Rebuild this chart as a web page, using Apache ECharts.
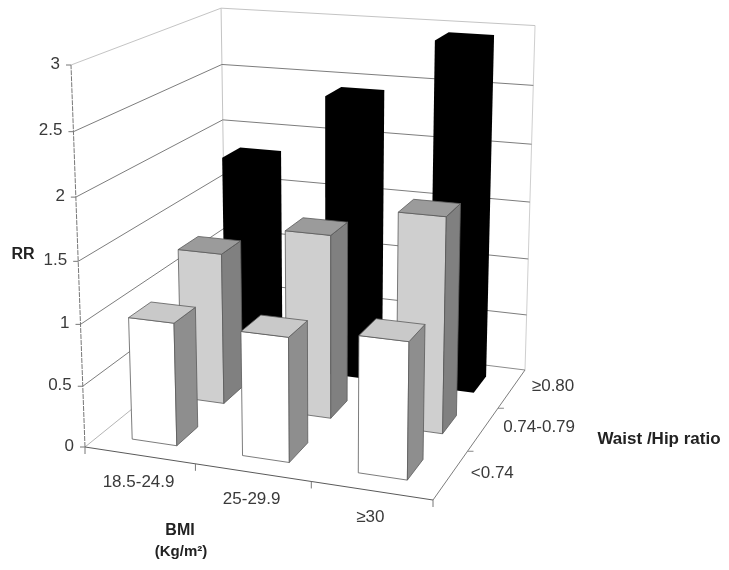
<!DOCTYPE html>
<html>
<head>
    <meta charset="UTF-8">
    <title>RR by BMI and waist/hip ratio</title>
    <script src="https://cdn.jsdelivr.net/npm/echarts@6/dist/echarts.min.js"></script>
    <style>
        html, body { margin: 0; background: #fff; }
        #chart { width: 729px; height: 570px; }
    </style>
</head>
<body>
    <div id="chart"></div>
    <script>
        var bmiLabels = ['18.5-24.9', '25-29.9', '≥30'];
        var waistHipLabels = ['<0.74', '0.74-0.79', '≥0.80'];
        var rrTicks = [0, 0.5, 1, 1.5, 2, 2.5, 3];
        var rrLow = [1.0, 1.0, 1.08];
        var rrMid = [1.28, 1.53, 1.77];
        var rrHigh = [1.83, 2.43, 2.95];

        // screen corners of the box: floor, then two top corners
        var A = [85, 447], C = [433, 500], D = [525, 370], B = [226, 333];
        var topA = [71, 65], topD = [535, 27];

        // hidden grid, its pixels are the front plane that gets projected
        var PLANE = 300;
        var BAR_W = 0.41, BAR_D = 0.43;
        var FONT_FAMILY = '"Liberation Sans", Arial, sans-serif';

        // unit square -> floor quad
        var dx1 = C[0] - D[0], dx2 = B[0] - D[0], sx = A[0] - C[0] + D[0] - B[0];
        var dy1 = C[1] - D[1], dy2 = B[1] - D[1], sy = A[1] - C[1] + D[1] - B[1];
        var det = dx1 * dy2 - dx2 * dy1;
        var g = (sx * dy2 - dx2 * sy) / det;
        var h = (dx1 * sy - sx * dy1) / det;
        var m = [
            C[0] - A[0] + g * C[0], B[0] - A[0] + h * B[0], A[0],
            C[1] - A[1] + g * C[1], B[1] - A[1] + h * B[1], A[1]
        ];

        // verticals meet in one vanishing point
        var slopeA = (topA[0] - A[0]) / (topA[1] - A[1]);
        var slopeD = (topD[0] - D[0]) / (topD[1] - D[1]);
        var vy = (D[0] - A[0] + slopeA * A[1] - slopeD * D[1]) / (slopeA - slopeD);
        var vx = A[0] + slopeA * (vy - A[1]);
        var k = (topA[1] - A[1]) / (vy - topA[1]);

        function project(s, t, z) {
            var w = g * s + h * t + 1 + z * k;
            return [
                (m[0] * s + m[1] * t + m[2] + z * k * vx) / w,
                (m[3] * s + m[4] * t + m[5] + z * k * vy) / w
            ];
        }

        function line(p, q, color, width, dash) {
            return {
                type: 'line',
                shape: { x1: p[0], y1: p[1], x2: q[0], y2: q[1] },
                style: { stroke: color, lineWidth: width || 1, lineDash: dash }
            };
        }

        function label(text, x, y, align) {
            return {
                type: 'text',
                style: {
                    text: text, x: x, y: y, align: align, verticalAlign: 'middle',
                    fontSize: 17, fontFamily: FONT_FAMILY, fill: '#3a3a3a'
                }
            };
        }

        function title(text, x, y, size) {
            return {
                type: 'text',
                style: {
                    text: text, x: x, y: y, align: 'center', verticalAlign: 'middle',
                    fontSize: size, fontWeight: 'bold', fontFamily: FONT_FAMILY, fill: '#222'
                }
            };
        }

        function poly(points, fill, stroke) {
            return {
                type: 'polygon',
                shape: { points: points },
                style: { fill: fill, stroke: stroke, lineWidth: 0.8, lineJoin: 'round' }
            };
        }

        function barSeries(name, values, depth, faces) {
            return {
                name: name,
                type: 'custom',
                coordinateSystem: 'cartesian2d',
                silent: true,
                data: values.map(function (v, i) { return [i, v]; }),
                renderItem: function (params, api) {
                    var pos = api.coord([api.value(0), api.value(1)]);
                    var half = api.size([1, 0])[0] * BAR_W / 2;
                    var s0 = (pos[0] - half) / PLANE, s1 = (pos[0] + half) / PLANE;
                    var t0 = (depth + 0.5 - BAR_D / 2) / 3, t1 = (depth + 0.5 + BAR_D / 2) / 3;
                    var z = (PLANE - pos[1]) / PLANE;
                    if (faces.solid) {
                        // all faces the same colour: one outline, no inner seams
                        return poly([
                            project(s0, t0, 0), project(s1, t0, 0), project(s1, t1, 0),
                            project(s1, t1, z), project(s0, t1, z), project(s0, t0, z)
                        ], faces.solid);
                    }
                    return {
                        type: 'group',
                        children: [
                            poly([project(s0, t0, 0), project(s1, t0, 0), project(s1, t0, z), project(s0, t0, z)], faces.front, faces.line),
                            poly([project(s1, t0, 0), project(s1, t1, 0), project(s1, t1, z), project(s1, t0, z)], faces.side, faces.line),
                            poly([project(s0, t0, z), project(s1, t0, z), project(s1, t1, z), project(s0, t1, z)], faces.top, faces.line)
                        ]
                    };
                }
            };
        }

        var chart = echarts.init(document.getElementById('chart'), null, { renderer: 'canvas' });
        chart.setOption({
            animation: false,
            backgroundColor: '#fff',
            grid: { left: 0, top: 0, width: PLANE, height: PLANE },
            xAxis: { type: 'category', data: bmiLabels, show: false },
            yAxis: { type: 'value', min: 0, max: 3, interval: 0.5, show: false },
            graphic: [
                title('RR', 23, 255, 16),
                title('BMI', 180, 531, 16),
                title('(Kg/m²)', 181, 552, 15),
                title('Waist /Hip ratio', 659, 439, 17)
            ],
            series: [
                {
                    // back edges of the box
                    type: 'custom',
                    silent: true,
                    data: [[0, 0]],
                    renderItem: function () {
                        var out = [
                            line(project(0, 1, 0), project(0, 1, 1), '#c4c4c4'),
                            line(project(1, 1, 0), project(1, 1, 1), '#cfcfcf'),
                            line(project(0, 0, 0), project(0, 1, 0), '#b5b5b5'),
                            line(project(0, 1, 0), project(1, 1, 0), '#8c8c8c')
                        ];
                        return { type: 'group', children: out };
                    }
                },
                {
                    // RR gridlines on the two walls, ticks and labels
                    type: 'custom',
                    silent: true,
                    data: rrTicks.map(function (v) { return [0, v]; }),
                    renderItem: function (params, api) {
                        var v = api.value(1);
                        var z = (PLANE - api.coord([0, v])[1]) / PLANE;
                        var p = project(0, 0, z), q = project(0, 1, z), r = project(1, 1, z);
                        var color = v === 3 ? '#c4c4c4' : '#7d7d7d';
                        var out = [line([p[0] - 5, p[1]], p, '#777')];
                        if (v > 0) {
                            out.push(line(p, q, color), line(q, r, color));
                        }
                        out.push(label(String(v), p[0] - 11, p[1] - 1, 'right'));
                        return { type: 'group', children: out };
                    }
                },
                barSeries(waistHipLabels[2], rrHigh, 2, { solid: '#000' }),
                barSeries(waistHipLabels[1], rrMid, 1, { front: '#cfcfcf', side: '#808080', top: '#9b9b9b', line: '#5a5a5a' }),
                barSeries(waistHipLabels[0], rrLow, 0, { front: '#fff', side: '#8e8e8e', top: '#c9c9c9', line: '#5a5a5a' }),
                {
                    // front floor edges, drawn over everything
                    type: 'custom',
                    silent: true,
                    data: [[0, 0]],
                    renderItem: function () {
                        var out = [
                            line(project(0, 0, 0), project(0, 0, 1), '#777', 1, [5, 1]),
                            line(project(0, 0, 0), project(1, 0, 0), '#5a5a5a'),
                            line(project(1, 0, 0), project(1, 1, 0), '#7d7d7d')
                        ];
                        [0, 1, 2, 3].forEach(function (i) {
                            var p = project(i / 3, 0, 0);
                            out.push(line(p, [p[0], p[1] + 7], '#777'));
                        });
                        [1, 2].forEach(function (i) {
                            var p = project(1, i / 3, 0);
                            out.push(line(p, [p[0] + 6, p[1]], '#888'));
                        });
                        return { type: 'group', children: out };
                    }
                },
                {
                    // category labels along the floor edges
                    type: 'custom',
                    silent: true,
                    data: bmiLabels.map(function (d, i) { return [i, 0]; }),
                    renderItem: function (params, api) {
                        var i = api.value(0);
                        var s = api.coord([i, 0])[0] / PLANE;
                        var p = project(s, 0, 0);
                        var q = project(1, (i + 0.5) / 3, 0);
                        return {
                            type: 'group',
                            children: [
                                label(bmiLabels[i], p[0] - 1, p[1] + 27, 'center'),
                                label(waistHipLabels[i], q[0] + 20, q[1] - 2, 'left')
                            ]
                        };
                    }
                }
            ]
        });
    </script>
</body>
</html>
